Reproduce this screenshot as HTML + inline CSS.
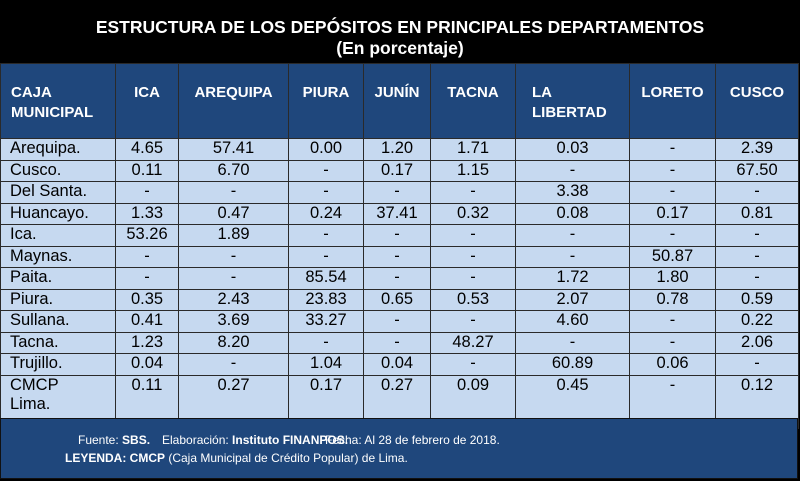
<!DOCTYPE html>
<html><head><meta charset="utf-8"><style>
body{margin:0;width:800px;height:481px;overflow:hidden;background:#000;font-family:"Liberation Sans",Arial,sans-serif}
#title{position:absolute;left:0;top:0;width:800px;height:63px;background:#000;color:#fff;font-weight:bold;font-size:17.5px;text-align:center;line-height:21px;padding-top:17px;box-sizing:border-box}
table{position:absolute;left:0;top:63px;border-collapse:collapse;table-layout:fixed;width:798px}
td,th{border:1px solid #2a2a2a;padding:0;overflow:hidden}
th{background:#1f477c;color:#fff;font-size:15px;height:75px;vertical-align:top;padding-top:19px;line-height:20px;text-align:center;box-sizing:border-box}
td{background:#c6d9f0;color:#000;font-size:16.5px;height:20.5px;text-align:center;line-height:19px;vertical-align:top}
td.l{text-align:left;padding-left:9px}
#foot{position:absolute;left:0;top:418px;width:798px;height:61px;background:#1f477c;color:#fff;font-size:12px;border:1px solid #111;box-sizing:border-box}
#foot div{position:absolute;white-space:nowrap}
</style></head><body>
<div id="title">ESTRUCTURA DE LOS DEPÓSITOS EN PRINCIPALES DEPARTAMENTOS<br>(En porcentaje)</div>
<table>
<colgroup><col style="width:115px"><col style="width:63px"><col style="width:110px"><col style="width:75px"><col style="width:67px"><col style="width:85px"><col style="width:114px"><col style="width:86px"><col style="width:83px"></colgroup>
<tr><th style="text-align:left;padding-left:10px">CAJA MUNICIPAL</th><th>ICA</th><th>AREQUIPA</th><th>PIURA</th><th>JUNÍN</th><th>TACNA</th><th style="text-align:left;padding-left:16px">LA LIBERTAD</th><th>LORETO</th><th>CUSCO</th></tr>
<tbody id="tb"></tbody>
</table>
<div id="foot">
<div style="left:77px;top:14px">Fuente: <b>SBS.</b></div>
<div style="left:161px;top:14px">Elaboración: <b>Instituto FINANPOS.</b></div>
<div style="left:324px;top:14px">Fecha: Al 28 de febrero de 2018.</div>
<div style="left:64px;top:32px"><b>LEYENDA: CMCP</b> (Caja Municipal de Crédito Popular) de Lima.</div>
</div>
<script>
const rowsData=[
["Arequipa.","4.65","57.41","0.00","1.20","1.71","0.03","-","2.39"],
["Cusco.","0.11","6.70","-","0.17","1.15","-","-","67.50"],
["Del Santa.","-","-","-","-","-","3.38","-","-"],
["Huancayo.","1.33","0.47","0.24","37.41","0.32","0.08","0.17","0.81"],
["Ica.","53.26","1.89","-","-","-","-","-","-"],
["Maynas.","-","-","-","-","-","-","50.87","-"],
["Paita.","-","-","85.54","-","-","1.72","1.80","-"],
["Piura.","0.35","2.43","23.83","0.65","0.53","2.07","0.78","0.59"],
["Sullana.","0.41","3.69","33.27","-","-","4.60","-","0.22"],
["Tacna.","1.23","8.20","-","-","48.27","-","-","2.06"],
["Trujillo.","0.04","-","1.04","0.04","-","60.89","0.06","-"],
["CMCP Lima.","0.11","0.27","0.17","0.27","0.09","0.45","-","0.12"]];
const tb=document.getElementById('tb');
rowsData.forEach((r,i)=>{
 const tr=document.createElement('tr');
 
 
 r.forEach((v,j)=>{
  const td=document.createElement('td');
  
  
  if(j==0){td.className='l';if(v=="CMCP Lima."){td.innerHTML="CMCP<br>Lima.";}else td.textContent=v;}
  else td.textContent=v;
  if(i==11)td.style.height='52px';
  tr.appendChild(td);
 });
 tb.appendChild(tr);
});
</script>
</body></html>
